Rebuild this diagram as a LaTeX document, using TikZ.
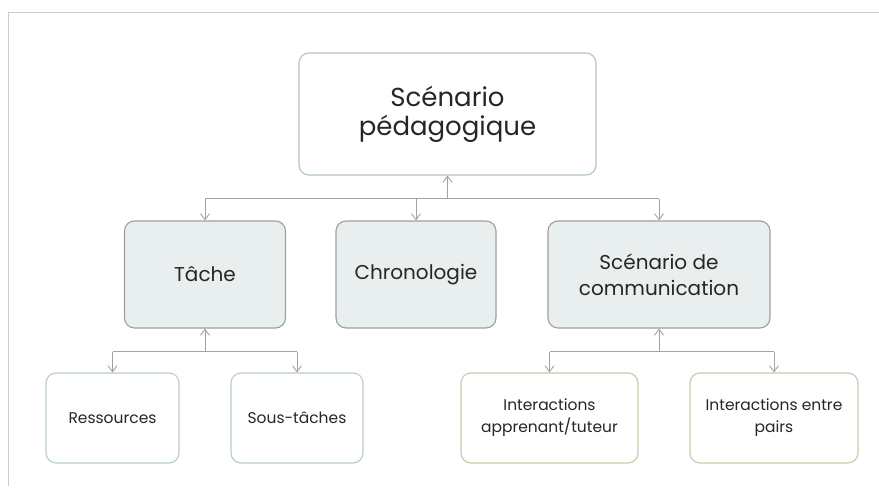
\documentclass[tikz,border=0pt]{standalone}
\usepackage{fontspec}
\setmainfont{Poppins}
\usepackage{tikz}
\usetikzlibrary{calc, arrows.meta}

\definecolor{inkgray}{HTML}{262626}
\definecolor{linegray}{HTML}{A2A2A2}
\definecolor{framegray}{HTML}{CCCCCC}
\definecolor{topborder}{HTML}{B2C2C2}
\definecolor{midfill}{HTML}{E9EEEF}
\definecolor{midborder}{HTML}{9CA0A0}
\definecolor{taskborder}{HTML}{B6CCD0}
\definecolor{commborder}{HTML}{C9C8AC}

\begin{document}
\begin{tikzpicture}[
        x=1pt, y=-1pt,
        box/.style={rounded corners=10pt, line width=1.1pt, align=center, text=inkgray, inner sep=0pt},
        rootbox/.style={box, draw=topborder, fill=white, minimum width=297pt, minimum height=122pt,
                font=\fontsize{26}{29}\selectfont},
        midbox/.style={box, draw=midborder, fill=midfill, minimum height=107pt,
                font=\fontsize{20}{26}\selectfont},
        taskbox/.style={box, draw=taskborder, fill=white, minimum height=90pt,
                font=\fontsize{15.5}{22}\selectfont},
        commbox/.style={box, draw=commborder, fill=white, minimum height=90pt,
                font=\fontsize{15.5}{22}\selectfont},
        link/.style={draw=linegray, line width=0.9pt},
        up/.style={link, -{Straight Barb[length=6pt, width=9pt, line width=0.9pt]}},
        ]

    \useasboundingbox (0, 0) rectangle (879, 490);
    \draw [framegray, line width=1pt] (879, 12) -- (8, 12) -- (8, 486);

	\node (root) at (447.5, 114) [rootbox] {Scénario\\pédagogique};

	\node (tache) at (205, 274.5) [midbox, minimum width=161pt] {Tâche};
	\node (chrono) at (416, 274.5) [midbox, minimum width=160pt] {Chronologie};
	\node (comm) at (659, 274.5) [midbox, minimum width=222pt] {Scénario de\\communication};

	\node (res) at (112.5, 418) [taskbox, minimum width=133pt] {Ressources};
	\node (sous) at (297, 418) [taskbox, minimum width=132pt] {Sous-tâches};

	\node (inter1) at (549.5, 418) [commbox, minimum width=177pt] {Interactions\\apprenant/tuteur};
	\node (inter2) at (774, 418) [commbox, minimum width=168pt] {Interactions entre\\pairs};

    % first level
    \coordinate (bus1) at ($(root.south) + (0, 23)$);
    \draw [up] (bus1) -- (root.south);
    \draw [link] (tache.north |- bus1) -- (comm.north |- bus1);
    \draw [up] (tache.north |- bus1) -- (tache.north);
    \draw [up] (chrono.north |- bus1) -- (chrono.north);
    \draw [up] (comm.north |- bus1) -- (comm.north);

    % under Tache
    \coordinate (bus2) at ($(tache.south) + (0, 23)$);
    \draw [up] (bus2) -- (tache.south);
    \draw [link] (res.north |- bus2) -- (sous.north |- bus2);
    \draw [up] (res.north |- bus2) -- (res.north);
    \draw [up] (sous.north |- bus2) -- (sous.north);

    % under communication
    \coordinate (bus3) at ($(comm.south) + (0, 23)$);
    \draw [up] (bus3) -- (comm.south);
    \draw [link] (inter1.north |- bus3) -- (inter2.north |- bus3);
    \draw [up] (inter1.north |- bus3) -- (inter1.north);
    \draw [up] (inter2.north |- bus3) -- (inter2.north);
    \end{tikzpicture}
\end{document}
